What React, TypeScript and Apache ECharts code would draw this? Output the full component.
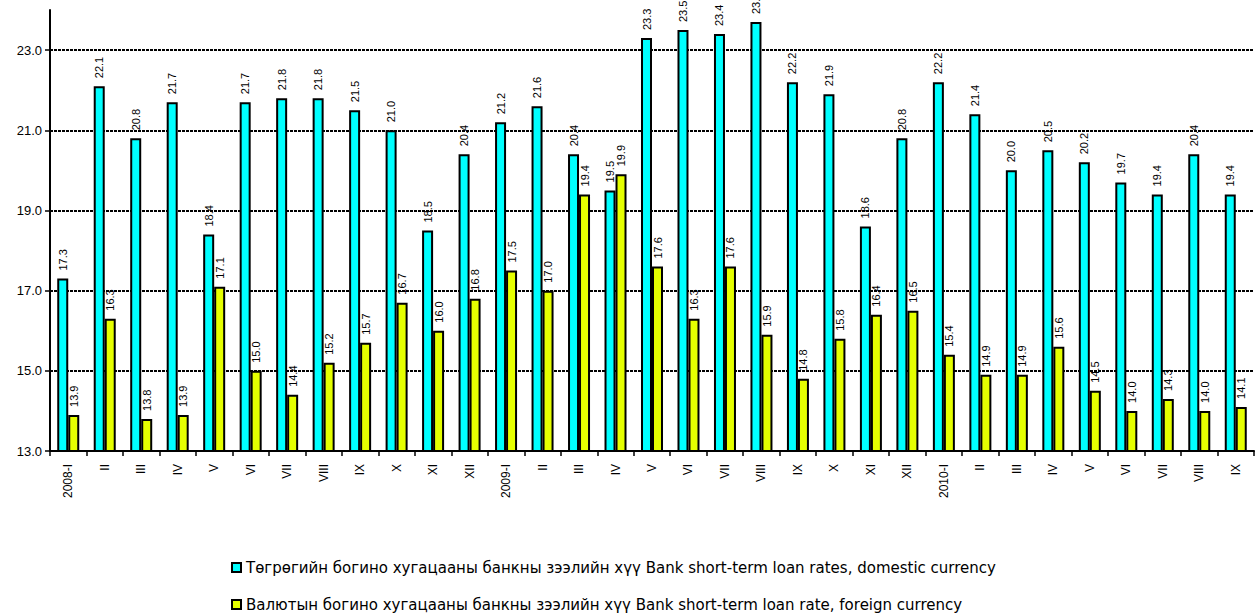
import React, { useEffect, useRef } from "react";
import * as echarts from "echarts";

const categories = [
  "2008-I", "II", "III", "IV", "V", "VI", "VII", "VIII", "IX", "X", "XI", "XII",
  "2009-I", "II", "III", "IV", "V", "VI", "VII", "VIII", "IX", "X", "XI", "XII",
  "2010-I", "II", "III", "IV", "V", "VI", "VII", "VIII", "IX",
];

const domesticRates = [
  17.3, 22.1, 20.8, 21.7, 18.4, 21.7, 21.8, 21.8, 21.5, 21.0, 18.5, 20.4,
  21.2, 21.6, 20.4, 19.5, 23.3, 23.5, 23.4, 23.7, 22.2, 21.9, 18.6, 20.8,
  22.2, 21.4, 20.0, 20.5, 20.2, 19.7, 19.4, 20.4, 19.4,
];

const foreignRates = [
  13.9, 16.3, 13.8, 13.9, 17.1, 15.0, 14.4, 15.2, 15.7, 16.7, 16.0, 16.8,
  17.5, 17.0, 19.4, 19.9, 17.6, 16.3, 17.6, 15.9, 14.8, 15.8, 16.4, 16.5,
  15.4, 14.9, 14.9, 15.6, 14.5, 14.0, 14.3, 14.0, 14.1,
];

const seriesNames = [
  "Төгрөгийн богино хугацааны банкны зээлийн хүү Bank short-term loan rates, domestic currency",
  "Валютын богино хугацааны банкны зээлийн хүү Bank short-term loan rate, foreign currency",
];

const FONT = "'Liberation Sans', Arial, sans-serif";

export default function App() {
  const ref = useRef<HTMLDivElement>(null);
  useEffect(() => {
    document.body.style.margin = "0";
    if (!ref.current) return;
    const chart = echarts.init(ref.current, null, { renderer: "svg" });
    const label = {
      show: true,
      position: "top",
      rotate: 90,
      align: "left",
      verticalAlign: "middle",
      distance: 8,
      fontSize: 11,
      fontFamily: FONT,
      color: "#000",
      formatter: (p: any) => Number(p.value).toFixed(1),
    };
    const legendBase = {
      orient: "horizontal",
      left: 231,
      padding: 0,
      itemWidth: 9,
      itemHeight: 9,
      itemGap: 4,
      icon: "rect",
      textStyle: { fontSize: 15, fontFamily: "'DejaVu Sans', sans-serif", color: "#000" },
    };
    chart.setOption({
      animation: false,
      backgroundColor: "#fff",
      grid: { left: 50, right: 4, top: 10, bottom: 164, containLabel: false },
      legend: [
        { ...legendBase, top: 560, data: [seriesNames[0]] },
        { ...legendBase, top: 597, data: [seriesNames[1]] },
      ],
      xAxis: {
        type: "category",
        data: categories,
        boundaryGap: true,
        axisLine: { lineStyle: { color: "#000", width: 2 } },
        axisTick: { show: true, length: 5, lineStyle: { color: "#000", width: 1.5 } },
        axisLabel: {
          rotate: 90,
          interval: 0,
          fontSize: 12,
          fontFamily: FONT,
          color: "#000",
          margin: 13,
        },
      },
      yAxis: {
        type: "value",
        min: 13,
        max: 24,
        interval: 2,
        axisLine: { show: true, lineStyle: { color: "#000", width: 2 } },
        axisTick: { show: true, length: 5, lineStyle: { color: "#000", width: 1.5 } },
        axisLabel: {
          fontSize: 13,
          fontFamily: FONT,
          color: "#000",
          margin: 8,
          showMaxLabel: false,
          formatter: (v: number) => v.toFixed(1),
        },
        splitLine: {
          show: true,
          showMaxLine: false,
          lineStyle: { color: "#000", width: 2, type: [3, 1] },
        },
      },
      series: [
        {
          name: seriesNames[0],
          type: "bar",
          data: domesticRates,
          barWidth: 11,
          barGap: "0%",
          itemStyle: { color: "#00FFFF", borderColor: "#000", borderWidth: 2 },
          label,
        },
        {
          name: seriesNames[1],
          type: "bar",
          data: foreignRates,
          barWidth: 11,
          barGap: "0%",
          itemStyle: { color: "#E5FF00", borderColor: "#000", borderWidth: 2 },
          label,
        },
      ],
    });
    return () => chart.dispose();
  }, []);
  return <div ref={ref} style={{ width: 1258, height: 615 }} />;
}
